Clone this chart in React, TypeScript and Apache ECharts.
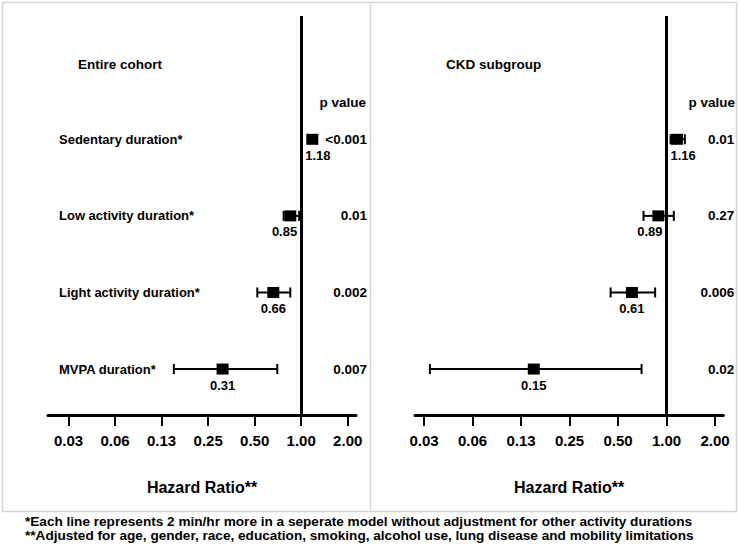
import React, { useEffect, useRef } from "react";
import * as echarts from "echarts";

const rowNames = [
  "Sedentary duration*",
  "Low activity duration*",
  "Light activity duration*",
  "MVPA duration*",
];

const entireHR = [1.18, 0.85, 0.66, 0.31];
const entireLo = [1.13, 0.77, 0.52, 0.15];
const entireHi = [1.24, 0.97, 0.85, 0.7];
const entireP = ["<0.001", "0.01", "0.002", "0.007"];

const ckdHR = [1.16, 0.89, 0.61, 0.15];
const ckdLo = [1.06, 0.72, 0.45, 0.034];
const ckdHi = [1.3, 1.11, 0.85, 0.7];
const ckdP = ["0.01", "0.27", "0.006", "0.02"];

const tickValues = [0.03125, 0.0625, 0.125, 0.25, 0.5, 1, 2];
const tickLabels = ["0.03", "0.06", "0.13", "0.25", "0.50", "1.00", "2.00"];

const panelTitles = ["Entire cohort", "CKD subgroup"];
const pHeader = "p value";
const axisTitle = "Hazard Ratio**";
const footnotes = [
  "*Each line represents 2 min/hr more in a seperate model without adjustment for other activity durations",
  "**Adjusted for age, gender, race, education, smoking, alcohol use, lung disease and mobility limitations",
];

const FONT = "'Liberation Sans', Arial, Helvetica, sans-serif";

function textWidth(s: string, fs: number) {
  let w = 0;
  for (const ch of s) {
    if (ch === ".") w += 0.278;
    else if (ch === "<") w += 0.584;
    else w += 0.556;
  }
  return w * fs;
}

function buildData(hr: number[], lo: number[], hi: number[]) {
  return hr.map((v, i) => [Math.log2(v), i + 1, Math.log2(lo[i]), Math.log2(hi[i])]);
}

function makeRender(pvals: string[], showNames: boolean) {
  return (params: any, api: any) => {
    const i = params.dataIndex;
    const y = api.value(1);
    const c = api.coord([api.value(0), y]);
    const l = api.coord([api.value(2), y]);
    const h = api.coord([api.value(3), y]);
    const ref = api.coord([0, y])[0];
    const cs = params.coordSys;
    const children: any[] = [];
    const ls = { stroke: "#000", lineWidth: 2 };
    children.push({ type: "line", shape: { x1: l[0], y1: c[1], x2: h[0], y2: c[1] }, style: ls });
    children.push({ type: "line", shape: { x1: l[0], y1: c[1] - 5, x2: l[0], y2: c[1] + 5 }, style: ls });
    children.push({ type: "line", shape: { x1: h[0], y1: c[1] - 5, x2: h[0], y2: c[1] + 5 }, style: ls });
    children.push({
      type: "rect",
      shape: { x: c[0] - 6, y: c[1] - 5.5, width: 12, height: 11 },
      style: { fill: "#000" },
    });
    const est = (Math.pow(2, api.value(0))).toFixed(2);
    const fs = 13;
    const w = textWidth(est, fs);
    const gap = 4;
    let tx = c[0];
    let align = "center";
    if (c[0] >= ref && c[0] - w / 2 < ref + gap) {
      tx = ref + gap;
      align = "left";
    } else if (c[0] < ref && c[0] + w / 2 > ref - gap) {
      tx = ref - gap;
      align = "right";
    }
    children.push({
      type: "text",
      x: tx,
      y: c[1] + 16,
      style: {
        text: est,
        fill: "#000",
        fontSize: fs,
        fontWeight: "bold",
        fontFamily: FONT,
        align,
        textAlign: align,
        verticalAlign: "middle",
        textVerticalAlign: "middle",
      },
    });
    if (showNames) {
      children.push({
        type: "text",
        x: cs.x + 11,
        y: c[1],
        style: {
          text: rowNames[i],
          fill: "#000",
          fontSize: 13,
          fontWeight: "bold",
          fontFamily: FONT,
          align: "left",
          textAlign: "left",
          verticalAlign: "middle",
          textVerticalAlign: "middle",
        },
      });
    }
    children.push({
      type: "text",
      x: cs.x + cs.width + 11,
      y: c[1],
      style: {
        text: pvals[i],
        fill: "#000",
        fontSize: 13.5,
        fontWeight: "bold",
        fontFamily: FONT,
        align: "right",
        textAlign: "right",
        verticalAlign: "middle",
        textVerticalAlign: "middle",
      },
    });
    return { type: "group", children };
  };
}

const logTicks = tickValues.map((v) => Math.log2(v));

function xAxisFor(gridIndex: number, min: number, max: number) {
  return {
    type: "value",
    gridIndex,
    min,
    max,
    name: axisTitle,
    nameLocation: "middle",
    nameGap: 64,
    nameTextStyle: { fontSize: 16, fontWeight: "bold", fontFamily: FONT, color: "#000" },
    splitLine: { show: false },
    axisLine: { show: true, onZero: false, lineStyle: { color: "#000", width: 3 } },
    axisTick: {
      show: true,
      customValues: logTicks,
      length: 11,
      lineStyle: { color: "#000", width: 2 },
    },
    axisLabel: {
      show: true,
      customValues: logTicks,
      margin: 18,
      fontSize: 15,
      fontWeight: "bold",
      fontFamily: FONT,
      color: "#000",
      formatter: (v: number) => {
        const k = logTicks.findIndex((t) => Math.abs(t - v) < 1e-6);
        return k >= 0 ? tickLabels[k] : "";
      },
    },
  };
}

function yAxisFor(gridIndex: number) {
  return {
    type: "value",
    gridIndex,
    inverse: true,
    min: -0.61,
    max: 4.6,
    show: false,
  };
}

const refLine = {
  silent: true,
  symbol: "none",
  label: { show: false },
  lineStyle: { color: "#000", width: 3, type: "solid" },
  data: [{ xAxis: 0 }],
};

export default function App() {
  const ref = useRef<HTMLDivElement>(null);
  useEffect(() => {
    if (!ref.current) return;
    const chart = echarts.init(ref.current, null, { renderer: "svg" });
    const txt = (text: string, x: number, y: number, align: string, fs: number) => ({
      type: "text",
      x,
      y,
      style: {
        text,
        fill: "#000",
        fontSize: fs,
        fontWeight: "bold",
        fontFamily: FONT,
        align,
        textAlign: align,
        verticalAlign: "middle",
        textVerticalAlign: "middle",
      },
    });
    chart.setOption({
      animation: false,
      backgroundColor: "#fff",
      grid: [
        { left: 48, top: 16, width: 308, height: 399 },
        { left: 415, top: 16, width: 308.3, height: 399 },
      ],
      xAxis: [xAxisFor(0, -5.442, 1.178), xAxisFor(1, -5.186, 1.171)],
      yAxis: [yAxisFor(0), yAxisFor(1)],
      series: [
        {
          type: "custom",
          xAxisIndex: 0,
          yAxisIndex: 0,
          encode: { x: [0, 2, 3], y: 1 },
          data: buildData(entireHR, entireLo, entireHi),
          renderItem: makeRender(entireP, true),
          markLine: refLine,
        },
        {
          type: "custom",
          xAxisIndex: 1,
          yAxisIndex: 1,
          encode: { x: [0, 2, 3], y: 1 },
          data: buildData(ckdHR, ckdLo, ckdHi),
          renderItem: makeRender(ckdP, false),
          markLine: refLine,
        },
      ],
      graphic: [
        {
          type: "rect",
          shape: { x: 2.5, y: 2.5, width: 734, height: 509 },
          style: { fill: "none", stroke: "#d4d4d4", lineWidth: 1.5 },
          z: -1,
        },
        {
          type: "line",
          shape: { x1: 370.5, y1: 2.5, x2: 370.5, y2: 511.5 },
          style: { stroke: "#d4d4d4", lineWidth: 1.5 },
          z: -1,
        },
        txt(panelTitles[0], 78, 64, "left", 13.5),
        txt(panelTitles[1], 446, 64, "left", 13.5),
        txt(pHeader, 366, 102, "right", 13.5),
        txt(pHeader, 735, 102, "right", 13.5),
        txt(footnotes[0], 25, 521, "left", 13.6),
        txt(footnotes[1], 25, 535, "left", 13.6),
      ],
    });
    return () => chart.dispose();
  }, []);
  return (
    <div
      ref={ref}
      style={{ position: "absolute", left: 0, top: 0, width: 740, height: 545 }}
    />
  );
}
